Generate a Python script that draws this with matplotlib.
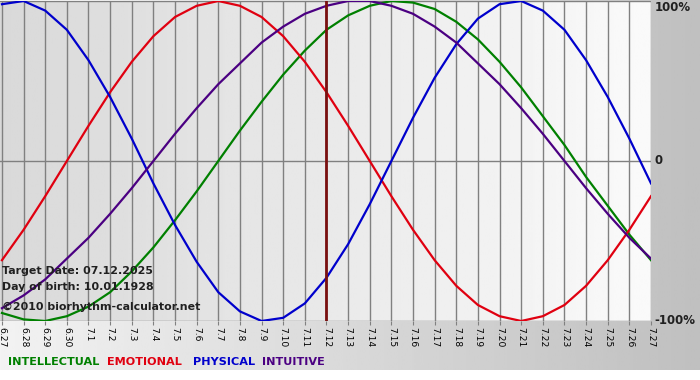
import numpy as np
import matplotlib.pyplot as plt

# 日期标签 (6.27 - 7.27)
days = ['6.27', '6.28', '6.29', '6.30', '7.1', '7.2', '7.3', '7.4', '7.5', '7.6',
        '7.7', '7.8', '7.9', '7.10', '7.11', '7.12', '7.13', '7.14', '7.15', '7.16',
        '7.17', '7.18', '7.19', '7.20', '7.21', '7.22', '7.23', '7.24', '7.25', '7.26', '7.27']

# 各周期曲线的每日数值（-1 .. 1）
intellectual = [-0.95, -0.99, -1.00, -0.97, -0.91, -0.82, -0.69, -0.54, -0.37, -0.19,
                0.00, 0.19, 0.37, 0.54, 0.69, 0.82, 0.91, 0.97, 1.00, 0.99,
                0.95, 0.87, 0.76, 0.62, 0.46, 0.28, 0.10, -0.10, -0.28, -0.46, -0.62]
emotional = [-0.62, -0.43, -0.22, 0.00, 0.22, 0.43, 0.62, 0.78, 0.90, 0.97,
             1.00, 0.97, 0.90, 0.78, 0.62, 0.43, 0.22, 0.00, -0.22, -0.43,
             -0.62, -0.78, -0.90, -0.97, -1.00, -0.97, -0.90, -0.78, -0.62, -0.43, -0.22]
physical = [0.98, 1.00, 0.94, 0.82, 0.63, 0.40, 0.14, -0.14, -0.40, -0.63,
            -0.82, -0.94, -1.00, -0.98, -0.89, -0.73, -0.52, -0.27, 0.00, 0.27,
            0.52, 0.73, 0.89, 0.98, 1.00, 0.94, 0.82, 0.63, 0.40, 0.14, -0.14]
intuitive = [-0.92, -0.84, -0.74, -0.61, -0.48, -0.33, -0.17, 0.00, 0.17, 0.33,
             0.48, 0.61, 0.74, 0.84, 0.92, 0.97, 1.00, 1.00, 0.97, 0.92,
             0.84, 0.74, 0.61, 0.48, 0.33, 0.17, 0.00, -0.17, -0.33, -0.48, -0.61]

target_day = '7.12'
info_lines = ['Target Date: 07.12.2025', 'Day of birth: 10.01.1928', '\u00a92010 biorhythm-calculator.net']
legend_names = ['INTELLECTUAL', 'EMOTIONAL', 'PHYSICAL', 'INTUITIVE']
y_labels = ['100%', '0', '-100%']

C_INT = '#008000'
C_EMO = '#e00010'
C_PHY = '#0000cc'
C_ITU = '#4b0082'

W, H = 700, 380
fig = plt.figure(figsize=(7, 3.8), dpi=100)
fig.patch.set_facecolor('white')

# 背景渐变
bg = fig.add_axes([0, 0, 1, 1])
grad = np.linspace(0.95, 0.75, 256).reshape(1, -1)
bg.imshow(grad, cmap='gray', vmin=0, vmax=1, aspect='auto', extent=[0, W, 10, H])
bg.set_xlim(0, W)
bg.set_ylim(0, H)
bg.axis('off')

ax = fig.add_axes([0, 59 / H, 651 / W, 320 / H])
x = np.arange(len(days))
ax.set_xlim(-0.09, len(days) - 1)
ax.set_ylim(-1, 1)
pgrad = np.linspace(0.85, 0.98, 256).reshape(1, -1)
ax.imshow(pgrad, cmap='gray', vmin=0, vmax=1, aspect='auto',
          extent=[-0.09, len(days) - 1, -1, 1], zorder=0)

for s in ax.spines.values():
    s.set_visible(False)
ax.set_xticks(x)
ax.set_xticklabels(days, rotation=270, fontsize=6.6, color='black')
ax.tick_params(axis='x', direction='out', length=3, color='#808080', pad=1)
ax.set_yticks([])
ax.grid(axis='x', color='#808080', lw=1, zorder=1)
for yv in [1, 0, -1]:
    ax.axhline(yv, color='#808080', lw=1, zorder=1)

ax.plot(x, intellectual, color=C_INT, lw=1.6, zorder=3)
ax.plot(x, emotional, color=C_EMO, lw=1.6, zorder=3)
ax.plot(x, physical, color=C_PHY, lw=1.6, zorder=3)
ax.plot(x, intuitive, color=C_ITU, lw=1.6, zorder=3)
ax.axvline(days.index(target_day), color='#7a1010', lw=2, zorder=4)

# 右侧百分比标签
for lab, yv, va in zip(y_labels, [1, 0, -1], ['top', 'center', 'center']):
    ax.text(len(days) - 1 + 0.15, yv, lab, fontsize=8.5, fontweight='bold',
            color='#202020', va=va, ha='left', clip_on=False)

# 左下角信息
for txt, py in zip(info_lines, [271, 287, 307]):
    fig.text(2 / W, 1 - py / H, txt, fontsize=7.9, fontweight='bold',
             color='#202020', va='center', ha='left', zorder=5)

# 图例
for name, col, px in zip(legend_names, [C_INT, C_EMO, C_PHY, C_ITU], [8, 107, 193, 262]):
    fig.text(px / W, 1 - 362 / H, name, fontsize=8.1, fontweight='bold',
             color=col, va='center', ha='left')

fig.savefig('out.png', dpi=100)
